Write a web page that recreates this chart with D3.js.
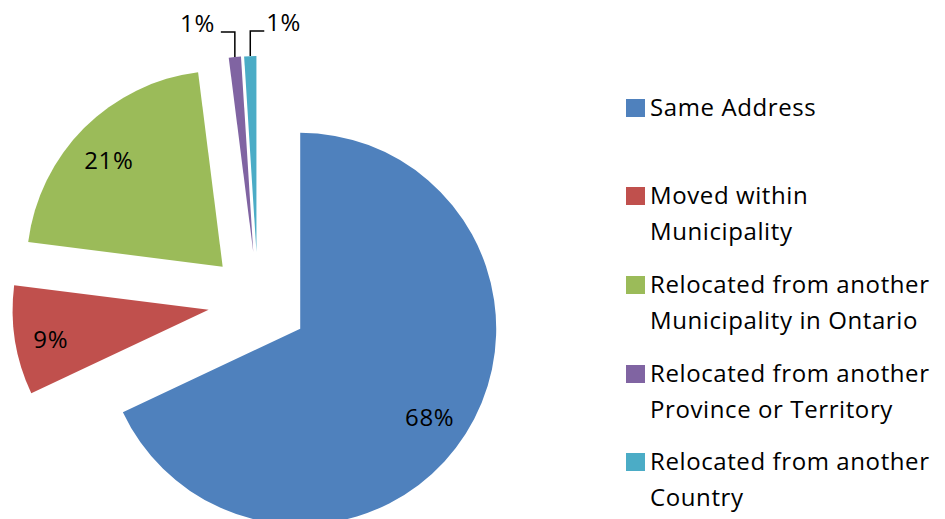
<html>
  <head>
    <meta charset="utf-8"/>
    <style>
      body { margin: 0; background: #fff; }
      text { font-family: "Open Sans", Lato, sans-serif; fill: #000; letter-spacing: 0.6px; }
    </style>
  </head>
  <body>
    <svg></svg>
  </body>
  <script src="https://d3js.org/d3.v7.min.js"></script>
  <script>
  var categories = [
    "Same Address",
    "Moved within Municipality",
    "Relocated from another Municipality in Ontario",
    "Relocated from another Province or Territory",
    "Relocated from another Country"
  ];
  var values = [68, 9, 21, 1, 1];
  var legendLines = [
    ["Same Address"],
    ["Moved within", "Municipality"],
    ["Relocated from another", "Municipality in Ontario"],
    ["Relocated from another", "Province or Territory"],
    ["Relocated from another", "Country"]
  ];
  var colors = ["#4f81bd", "#c0504d", "#9bbb59", "#8064a2", "#4bacc6"];

  var width = 945, height = 519;
  var cx = 258, cy = 302, radius = 196, explode = 50;
  var fontSize = 24;

  var svg = d3.select("svg")
    .attr("width", width)
    .attr("height", height);

  var color = d3.scaleOrdinal().domain(categories).range(colors);

  var pie = d3.pie().sort(null).value(function(d) { return d.value; });
  var arc = d3.arc().innerRadius(0).outerRadius(radius);

  var data = categories.map(function(c, i) { return {name: c, value: values[i]}; });
  var arcs = pie(data);
  var total = d3.sum(values);

  function dir(d) {
    var a = (d.startAngle + d.endAngle) / 2;
    return [Math.sin(a), -Math.cos(a)];
  }

  var chart = svg.append("g")
    .attr("transform", "translate(" + cx + "," + cy + ")");

  var slice = chart.selectAll("g.slice")
    .data(arcs)
    .enter().append("g")
    .attr("class", "slice")
    .attr("transform", function(d) {
      var v = dir(d);
      return "translate(" + (v[0] * explode) + "," + (v[1] * explode) + ")";
    });

  slice.append("path")
    .attr("d", arc)
    .attr("fill", function(d) { return color(d.data.name); });

  var fmt = function(d) { return Math.round(d.data.value / total * 100) + "%"; };

  // inside labels for the big slices
  slice.filter(function(d) { return d.data.value >= 5; })
    .append("text")
    .attr("x", function(d) { return dir(d)[0] * radius * 0.8 - 3; })
    .attr("y", function(d) { return dir(d)[1] * radius * 0.8 + 5; })
    .attr("text-anchor", "middle")
    .attr("dy", "0.35em")
    .style("font-size", fontSize + "px")
    .text(fmt);

  // outside labels with leader lines for the thin slices
  var small = slice.filter(function(d) { return d.data.value < 5; });
  small.each(function(d, i) {
    var g = d3.select(this);
    var v = dir(d);
    var x0 = v[0] * radius, y0 = v[1] * radius;
    var side = i === 0 ? -1 : 1;
    var y1 = y0 - 25;
    var x1 = x0 + side * 14;
    g.append("path")
      .attr("d", "M" + x0 + "," + y0 + "V" + y1 + "H" + x1)
      .attr("fill", "none")
      .attr("stroke", "#000")
      .attr("stroke-width", 1.5);
    g.append("text")
      .attr("x", x1 + side * (i === 0 ? 6 : 2))
      .attr("y", y1)
      .attr("text-anchor", side < 0 ? "end" : "start")
      .style("font-size", fontSize + "px")
      .text(fmt(d));
  });

  // legend
  var legendTops = [99, 187, 276, 365, 453];
  var legend = svg.selectAll("g.legend")
    .data(categories)
    .enter().append("g")
    .attr("class", "legend")
    .attr("transform", function(d, i) { return "translate(626," + legendTops[i] + ")"; });

  legend.append("rect")
    .attr("width", 19)
    .attr("height", 18)
    .attr("fill", function(d) { return color(d); });

  legend.each(function(d, i) {
    var t = d3.select(this).append("text")
      .attr("x", 24)
      .attr("y", 17)
      .style("font-size", fontSize + "px");
    legendLines[i].forEach(function(line, j) {
      t.append("tspan").attr("x", 24).attr("dy", j === 0 ? 0 : 35.5).text(line);
    });
  });
  </script>
</html>
